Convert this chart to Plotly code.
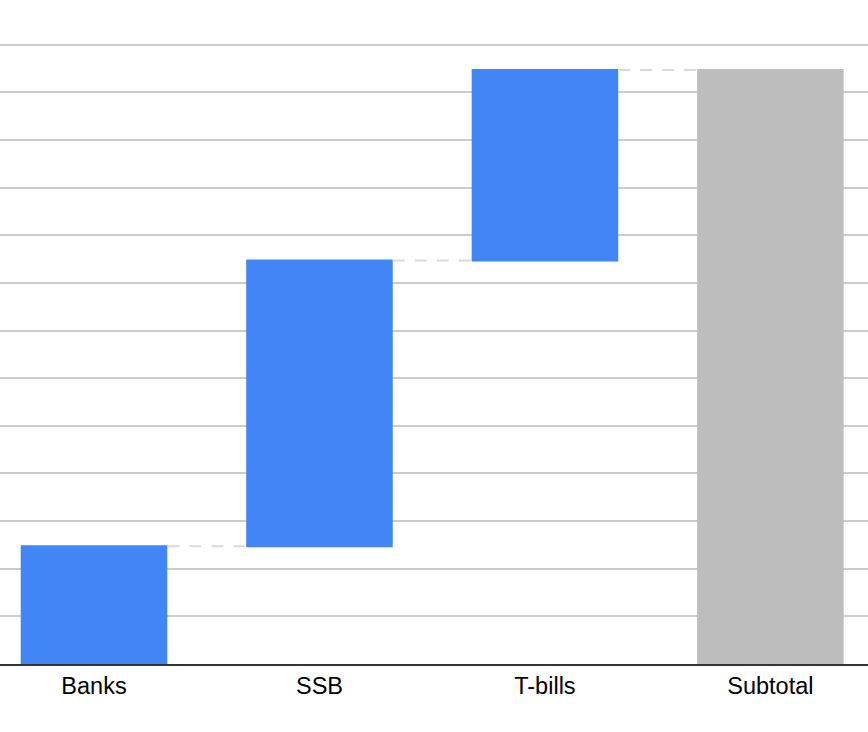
import plotly.graph_objects as go

categories = ["Banks", "SSB", "T-bills", "Subtotal"]
values = [2.47, 6.0, 4.0, 0]
measures = ["relative", "relative", "relative", "total"]

fig = go.Figure()
fig.add_trace(go.Waterfall(
    x=categories,
    y=values,
    measure=measures,
    increasing=dict(marker=dict(color="#4285f4")),
    decreasing=dict(marker=dict(color="#ea4335")),
    totals=dict(marker=dict(color="#bdbdbd")),
    connector=dict(line=dict(color="#d9d9d9", width=2, dash="12px,10px")),
    width=0.65,
    hoverinfo="x+y",
))

fig.update_layout(
    width=868, height=732,
    margin=dict(l=0, r=0, t=40, b=68, autoexpand=False),
    plot_bgcolor="white",
    paper_bgcolor="white",
    showlegend=False,
    font=dict(family="Liberation Sans, Arial, sans-serif", size=23, color="#000000"),
    xaxis=dict(
        range=[-0.417, 3.433],
        showgrid=False,
        showline=True, linecolor="#333333", linewidth=2,
        ticks="", tickfont=dict(size=23.5, color="#000000"),
        automargin=False,
    ),
    yaxis=dict(
        range=[0, 13.1],
        dtick=1,
        showgrid=True, gridcolor="#cccccc", gridwidth=2,
        showticklabels=False,
        zeroline=False,
        ticks="",
        automargin=False,
    ),
)

fig.write_html("out.html", config={"displayModeBar": False},
               post_script="document.body.style.margin='0';")
